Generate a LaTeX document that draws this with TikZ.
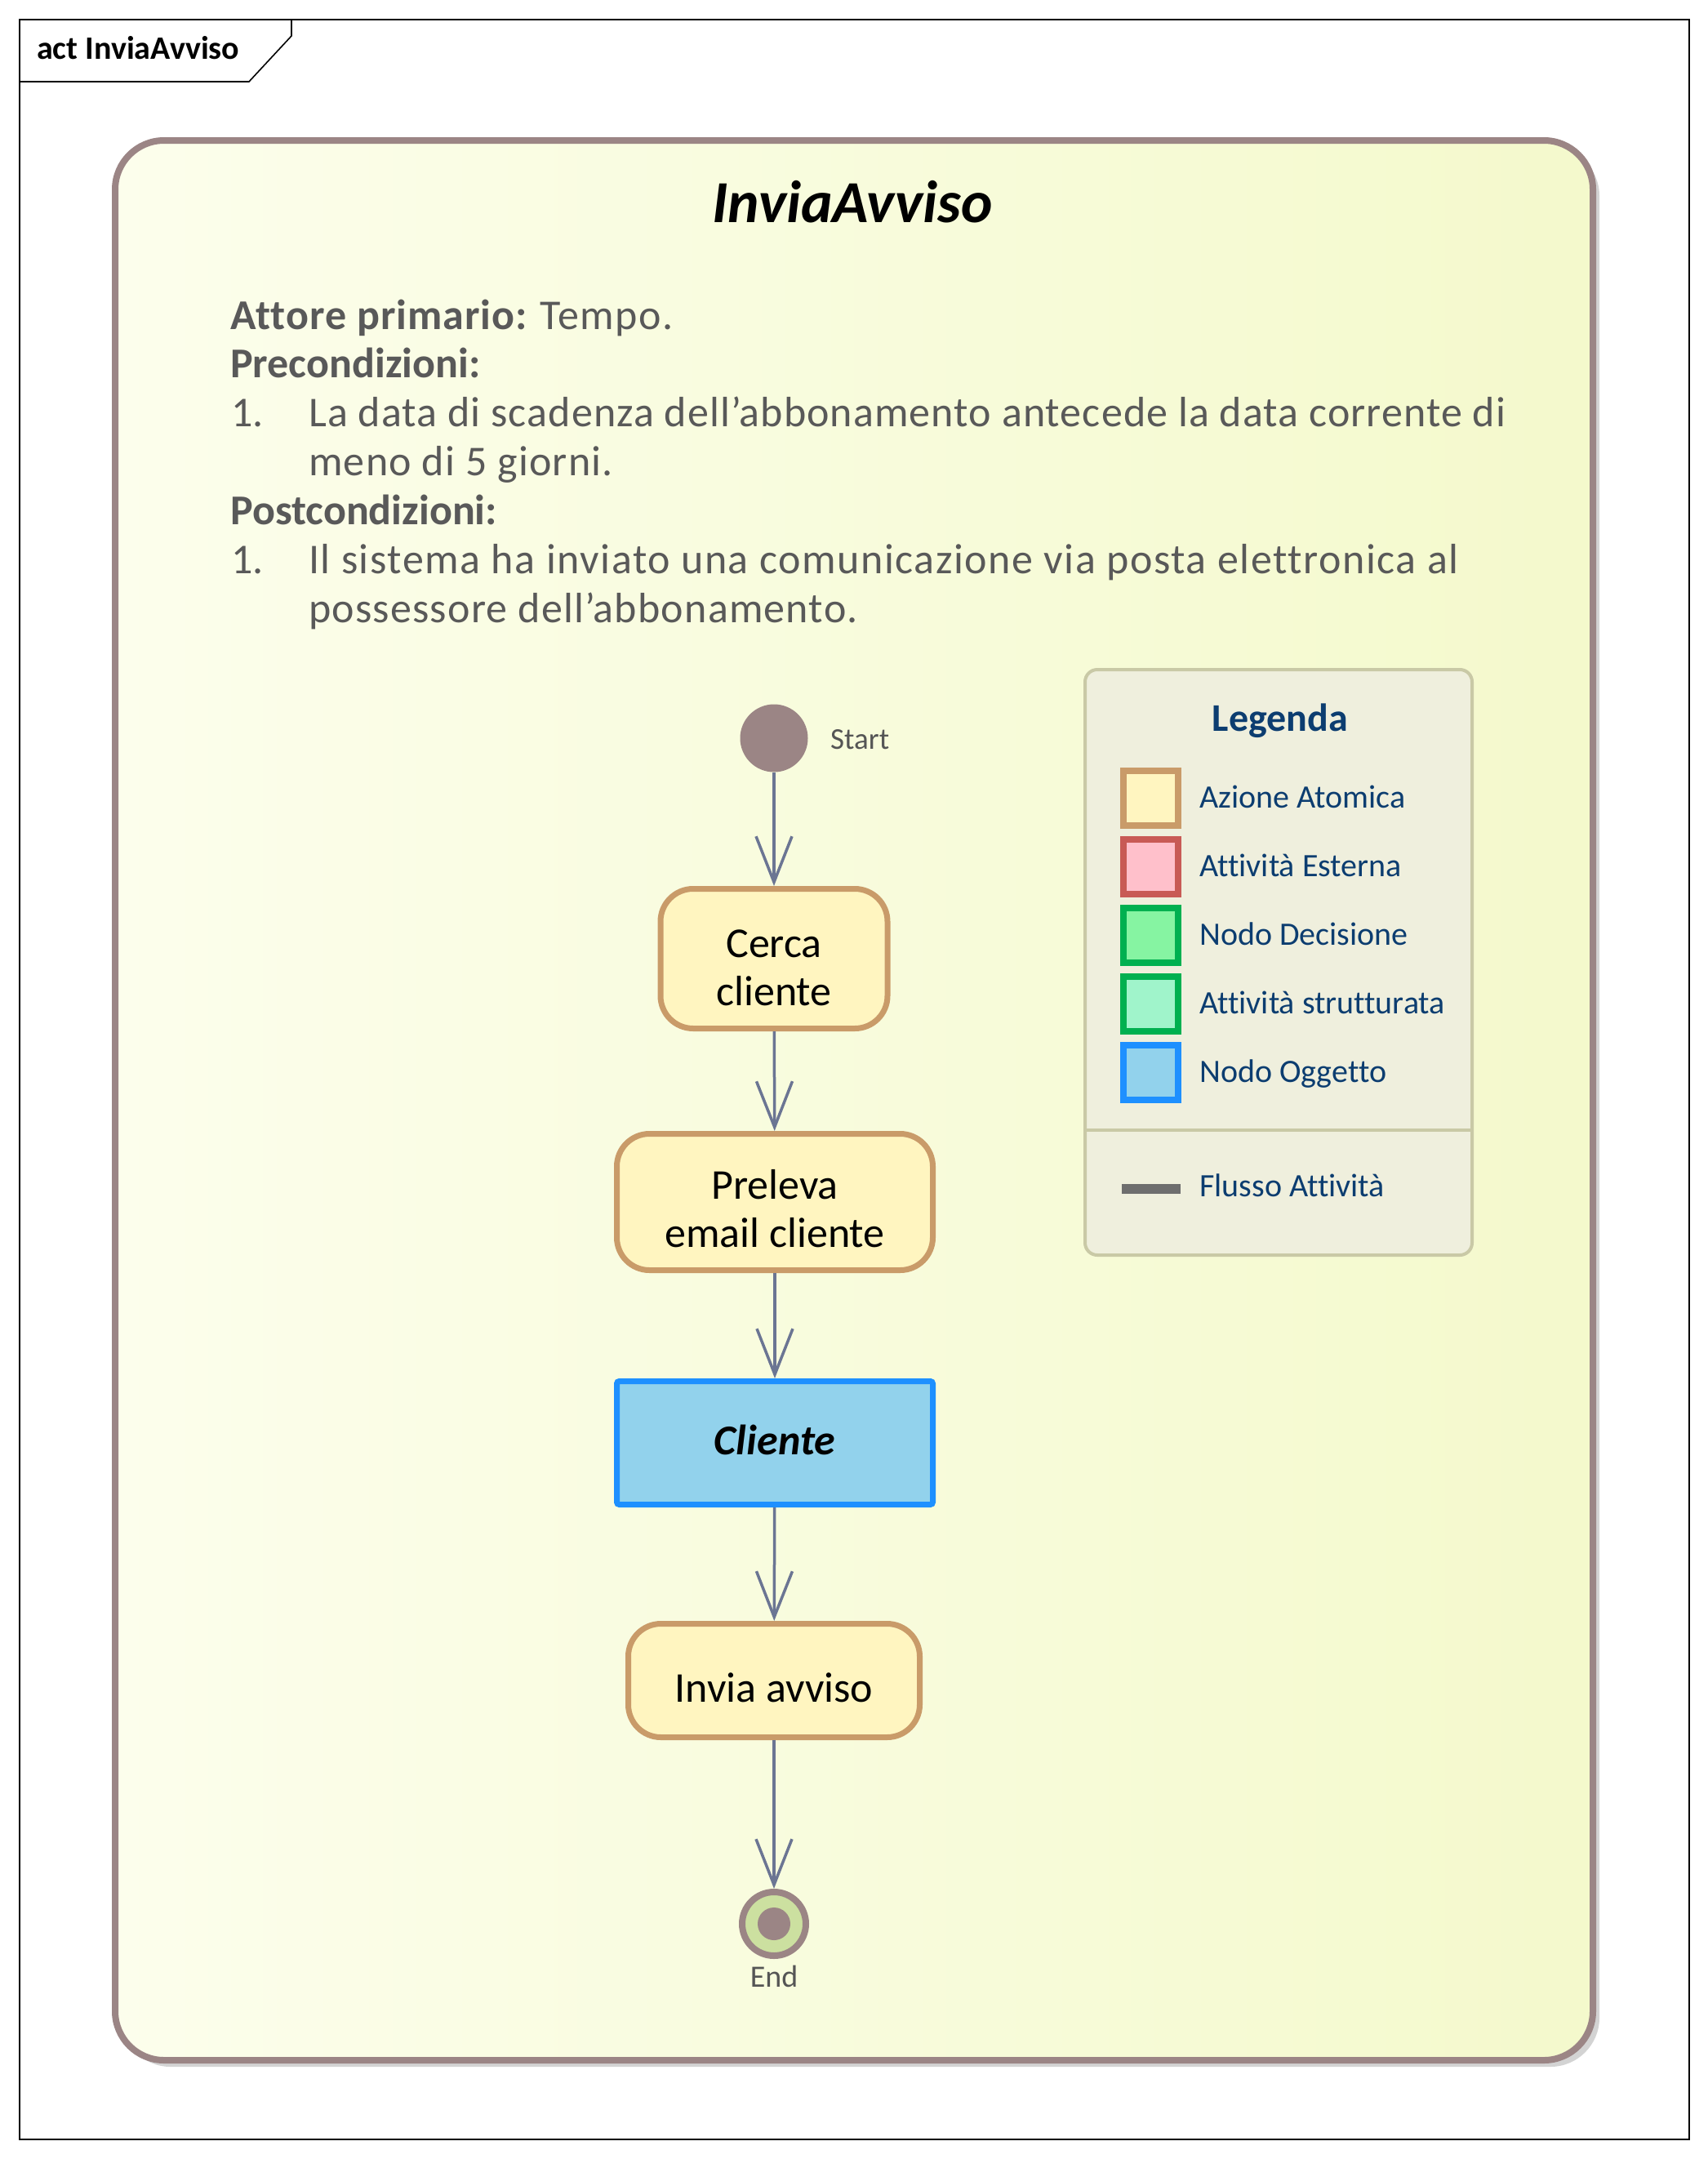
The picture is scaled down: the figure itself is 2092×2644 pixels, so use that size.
\documentclass[tikz,border=0pt]{standalone}
\usepackage{fontspec}
\setmainfont[Ligatures={NoCommon}]{Carlito}
\usetikzlibrary{arrows.meta}
\definecolor{frameC}{HTML}{9B8585}
\definecolor{bgL}{HTML}{FCFEEC}
\definecolor{bgR}{HTML}{F4F9CC}
\definecolor{shadowC}{HTML}{D3D3D3}
\definecolor{hdrC}{HTML}{595959}
\definecolor{legB}{HTML}{C9C9A6}
\definecolor{legF}{HTML}{EFEFDD}
\definecolor{legT}{HTML}{0C3D70}
\definecolor{actB}{HTML}{C99B69}
\definecolor{actF}{HTML}{FFF5C0}
\definecolor{extB}{HTML}{C85A55}
\definecolor{extF}{HTML}{FFC0CB}
\definecolor{decB}{HTML}{00B050}
\definecolor{decF}{HTML}{86F4A2}
\definecolor{strF}{HTML}{A0F4CB}
\definecolor{objB}{HTML}{1E90FF}
\definecolor{objF}{HTML}{92D2EC}
\definecolor{flowC}{HTML}{6B7593}
\definecolor{endF}{HTML}{CCE0A0}
\definecolor{legLine}{HTML}{6E6E6E}
\definecolor{lblC}{HTML}{555555}
\newcommand{\fs}[2]{\fontsize{#1}{#2}\selectfont}
\newcommand{\lsp}[1]{\addfontfeature{LetterSpace=#1}}
\begin{document}
\begin{tikzpicture}[x=1pt,y=-1pt,
  hdr/.style={anchor=base west,inner sep=0pt,text=hdrC,font=\fs{52}{60}},
  legtxt/.style={anchor=base west,inner sep=0pt,text=legT,font=\fs{40}{46}},
  swatch/.style={draw=#1,line width=8pt,minimum size=67pt,inner sep=0pt},
  action/.style={draw=actB,fill=actF,line width=7pt,rounded corners=40pt,inner sep=0pt},
  acttext/.style={inner sep=0pt,align=center,font=\fs{52}{59}},
  flow/.style={draw=flowC,line width=3.5pt,-{Straight Barb[length=56pt,width=44pt]}},
  lbl/.style={inner sep=0pt,text=lblC,font=\fs{37}{44}}
]
\useasboundingbox (0,0) rectangle (2092,2644);
\fill[white] (0,0) rectangle (2092,2644);
% outer frame and tab
\draw[line width=1.6pt] (24,24) rectangle (2069,2620);
\draw[line width=1.6pt] (24,100) -- (305,100) -- (357,44) -- (357,24);
\node[anchor=base west,inner sep=0pt,font=\fs{40}{46}\bfseries] (tab) at (45,73) {act InviaAvviso};
% activity frame
\fill[shadowC,rounded corners=60pt] (149,180) rectangle (1959,2531);
\path[draw=frameC,line width=8pt,left color=bgL,right color=bgR,rounded corners=60pt] (141,172) rectangle (1951,2523);
\node[anchor=base,inner sep=0pt,font=\fs{73}{84}\bfseries\itshape] (title) at (1044,272) {InviaAvviso};
% header text
\node[hdr] (h1) at (282,403) {{\bfseries\lsp{2.0}Attore primario:} {\lsp{2.5}Tempo.}};
\node[hdr] (h2) at (282,462) {\textbf{Precondizioni:}};
\node[hdr] (n1) at (283,522) {1.};
\node[hdr] (h3) at (378,522) {\lsp{2.1}La data di scadenza dell’abbonamento antecede la data corrente di};
\node[hdr] (h4) at (378,582) {\lsp{2.3}meno di 5 giorni.};
\node[hdr] (h5) at (282,642) {\textbf{Postcondizioni:}};
\node[hdr] (n2) at (283,702) {1.};
\node[hdr] (h6) at (378,702) {\lsp{3.0}Il sistema ha inviato una comunicazione via posta elettronica al};
\node[hdr] (h7) at (378,762) {\lsp{2.3}possessore dell’abbonamento.};
% legend
\draw[draw=legB,fill=legF,line width=4pt,rounded corners=15pt] (1329,820) rectangle (1803,1537);
\draw[legB,line width=4pt] (1329,1384) -- (1803,1384);
\node[anchor=base,inner sep=0pt,text=legT,font=\fs{48}{56}\bfseries] (legtitle) at (1568,895) {Legenda};
\node[swatch=actB,fill=actF] (s1) at (1409.5,977.5) {};
\node[swatch=extB,fill=extF] (s2) at (1409.5,1061.5) {};
\node[swatch=decB,fill=decF] (s3) at (1409.5,1145.5) {};
\node[swatch=decB,fill=strF] (s4) at (1409.5,1229.5) {};
\node[swatch=objB,fill=objF] (s5) at (1409.5,1313.5) {};
\node[legtxt] (l1) at (1469,989) {Azione Atomica};
\node[legtxt] (l2) at (1469,1073) {Attività Esterna};
\node[legtxt] (l3) at (1469,1157) {Nodo Decisione};
\node[legtxt] (l4) at (1469,1241) {Attività strutturata};
\node[legtxt] (l5) at (1469,1325) {Nodo Oggetto};
\draw[legLine,line width=12pt] (1374,1456) -- (1446,1456);
\node[legtxt] (l6) at (1469,1465) {Flusso Attività};
% flow
\node[circle,fill=frameC,minimum size=83pt,inner sep=0pt] (start) at (948,904) {};
\node[lbl,anchor=base west] (startlbl) at (1017,917) {Start};
\node[action,minimum width=278pt,minimum height=171pt] (cerca) at (948,1174) {};
\node[acttext] (cercatxt) at ([yshift=-11pt]cerca.center) {Cerca\\cliente};
\node[action,minimum width=387pt,minimum height=167pt] (preleva) at (949,1472) {};
\node[acttext] (prelevatxt) at ([yshift=-8pt]preleva.center) {Preleva\\email cliente};
\node[draw=objB,fill=objF,line width=7pt,rounded corners=3pt,minimum width=387pt,minimum height=151pt,inner sep=0pt] (cliente) at (949,1767) {};
\node[inner sep=0pt,font=\fs{52}{60}\bfseries\itshape] (clientetxt) at ([yshift=4pt]cliente.center) {Cliente};
\node[action,minimum width=357pt,minimum height=139pt] (invia) at (948,2058) {};
\node[acttext] (inviatxt) at ([yshift=-9pt]invia.center) {Invia avviso};
\node[circle,draw=frameC,fill=endF,line width=8pt,minimum size=78pt,inner sep=0pt] (end) at (948,2356) {};
\fill[frameC] (end.center) circle[radius=20pt];
\node[lbl,anchor=base,font=\fs{38}{44}] (endlbl) at (948,2433) {End};
\draw[flow] (start) -- (cerca);
\draw[flow] (cerca) -- (preleva);
\draw[flow] (preleva) -- (cliente);
\draw[flow] (cliente) -- (invia);
\draw[flow] (invia) -- (end);
\end{tikzpicture}
\end{document}
